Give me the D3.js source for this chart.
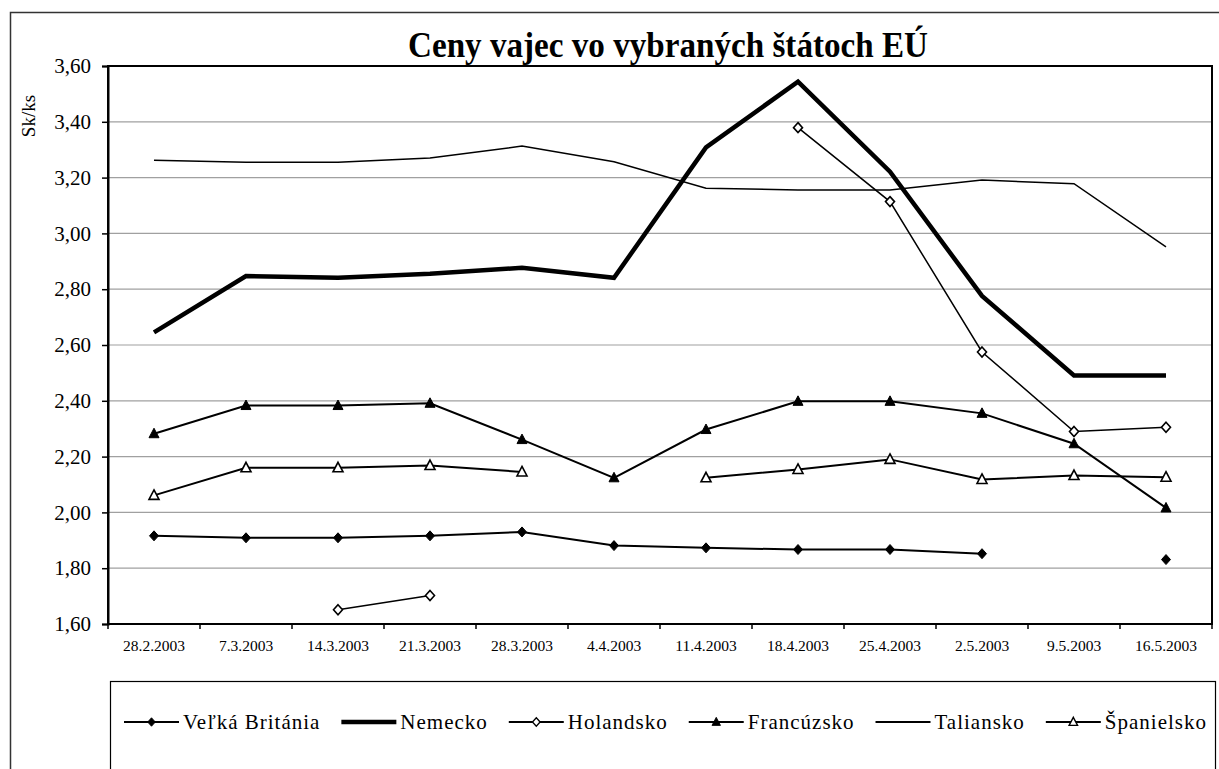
<!DOCTYPE html>
<html>
<head>
<meta charset="utf-8">
<script src="https://cdn.jsdelivr.net/npm/d3@7"></script>
<style>
  body { margin: 0; background: #fff; }
  text { font-family: "Liberation Serif", "Times New Roman", serif; fill: #000; }
</style>
</head>
<body>
<svg id="chart" width="1219" height="769"></svg>
<script>
// data
const dates = ["28.2.2003", "7.3.2003", "14.3.2003", "21.3.2003", "28.3.2003", "4.4.2003",
  "11.4.2003", "18.4.2003", "25.4.2003", "2.5.2003", "9.5.2003", "16.5.2003"];
const yTicks = [1.6, 1.8, 2.0, 2.2, 2.4, 2.6, 2.8, 3.0, 3.2, 3.4, 3.6];

const velkaBritania = [1.916, 1.909, 1.909, 1.916, 1.930, 1.881, 1.873, 1.867, 1.867, 1.852, null, 1.831];
const nemecko = [2.645, 2.847, 2.841, 2.855, 2.877, 2.841, 3.308, 3.544, 3.221, 2.776, 2.491, 2.491];
const holandsko = [null, null, 1.651, 1.702, null, null, null, 3.379, 3.114, 2.575, 2.290, 2.305];
const francuzsko = [2.282, 2.383, 2.383, 2.391, 2.261, 2.124, 2.297, 2.398, 2.398, 2.355, 2.246, 2.016];
const taliansko = [3.262, 3.255, 3.255, 3.270, 3.313, 3.257, 3.162, 3.156, 3.156, 3.191, 3.178, 2.952];
const spanielsko = [2.061, 2.160, 2.160, 2.168, 2.145, null, 2.124, 2.154, 2.190, 2.118, 2.132, 2.126];

const series = [
  { name: "Veľká Británia", values: velkaBritania, width: 2, marker: "diamond", fill: "#000" },
  { name: "Nemecko", values: nemecko, width: 4.5, marker: null },
  { name: "Holandsko", values: holandsko, width: 1.5, marker: "diamond", fill: "#fff" },
  { name: "Francúzsko", values: francuzsko, width: 2, marker: "triangle", fill: "#000" },
  { name: "Taliansko", values: taliansko, width: 1.5, marker: null },
  { name: "Španielsko", values: spanielsko, width: 2, marker: "triangle", fill: "#fff" }
];

const svg = d3.select("#chart");
const plot = { left: 108, right: 1212, top: 66, bottom: 624 };

// outer chart frame (runs off the right and bottom edge)
svg.append("rect")
  .attr("x", 10.5).attr("y", 12.5)
  .attr("width", 1300).attr("height", 800)
  .attr("fill", "none").attr("stroke", "#333").attr("stroke-width", 1.5);

const x = d3.scaleBand().domain(dates).range([plot.left, plot.right]).padding(0);
const y = d3.scaleLinear().domain([1.6, 3.6]).range([plot.bottom, plot.top]);
const cx = d => x(d) + x.bandwidth() / 2;

// gridlines
svg.append("g")
  .selectAll("line")
  .data(yTicks.slice(1, -1))
  .enter()
  .append("line")
  .attr("x1", plot.left).attr("x2", plot.right)
  .attr("y1", d => y(d)).attr("y2", d => y(d))
  .attr("stroke", "#a0a0a0").attr("stroke-width", 1.2);

// plot frame
svg.append("rect")
  .attr("x", plot.left).attr("y", plot.top)
  .attr("width", plot.right - plot.left).attr("height", plot.bottom - plot.top)
  .attr("fill", "none").attr("stroke", "#000").attr("stroke-width", 2);

// y axis
const yAxis = svg.append("g")
  .attr("transform", "translate(" + plot.left + ",0)")
  .call(d3.axisLeft(y).tickValues(yTicks).tickSize(6).tickPadding(11)
    .tickFormat(d => d3.format(".2f")(d).replace(".", ",")));
yAxis.attr("font-family", null);
yAxis.select(".domain").attr("stroke", "#000").attr("stroke-width", 2);
yAxis.selectAll(".tick line").attr("stroke", "#000").attr("stroke-width", 1.5);
yAxis.selectAll("text").style("font-size", "21px").attr("fill", "#000");

// x axis: ticks at category boundaries
const xAxis = svg.append("g")
  .attr("transform", "translate(0," + plot.bottom + ")");
xAxis.append("line")
  .attr("x1", plot.left).attr("x2", plot.right)
  .attr("stroke", "#000").attr("stroke-width", 2);
xAxis.selectAll(".xt")
  .data(dates.concat(["end"]))
  .enter()
  .append("line")
  .attr("x1", (d, i) => i < dates.length ? x(d) : plot.right)
  .attr("x2", (d, i) => i < dates.length ? x(d) : plot.right)
  .attr("y1", 0).attr("y2", 5)
  .attr("stroke", "#000").attr("stroke-width", 1.5);
xAxis.selectAll(".xl")
  .data(dates)
  .enter()
  .append("text")
  .attr("x", d => cx(d))
  .attr("y", 27)
  .attr("text-anchor", "middle")
  .style("font-size", "15.5px")
  .text(d => d);

// y axis title
svg.append("text")
  .attr("transform", "translate(35,116) rotate(-90)")
  .attr("text-anchor", "middle")
  .style("font-size", "19px")
  .text("Sk/ks");

// chart title
svg.append("text")
  .attr("x", 668).attr("y", 57)
  .attr("text-anchor", "middle")
  .attr("textLength", 520).attr("lengthAdjust", "spacingAndGlyphs")
  .style("font-size", "36px").style("font-weight", "bold")
  .text("Ceny vajec vo vybraných štátoch EÚ");

function markerPath(type) {
  if (type === "diamond") return "M0,-5L4.5,0L0,5L-4.5,0Z";
  if (type === "triangle") return "M0,-5.5L5,4L-5,4Z";
  return null;
}

// series lines and markers
const line = d3.line()
  .defined(d => d.v !== null)
  .x(d => cx(d.date))
  .y(d => y(d.v));

series.forEach(function (s) {
  const pts = s.values.map((v, i) => ({ date: dates[i], v: v }));
  svg.append("path")
    .datum(pts)
    .attr("d", line)
    .attr("fill", "none")
    .attr("stroke", "#000")
    .attr("stroke-width", s.width)
    .attr("stroke-linejoin", "miter");
  if (s.marker) {
    svg.append("g")
      .selectAll("path")
      .data(pts.filter(d => d.v !== null))
      .enter()
      .append("path")
      .attr("d", markerPath(s.marker))
      .attr("transform", d => "translate(" + cx(d.date) + "," + y(d.v) + ")")
      .attr("fill", s.fill)
      .attr("stroke", "#000")
      .attr("stroke-width", s.fill === "#fff" ? 1.6 : 1);
  }
});

// legend
svg.append("rect")
  .attr("x", 110.5).attr("y", 681.5)
  .attr("width", 1105).attr("height", 90)
  .attr("fill", "#fff").attr("stroke", "#000").attr("stroke-width", 1.2);

const legend = svg.append("g");
const lineLen = 55, textGap = 4, legY = 722;
const items = series.map(function (s) {
  const g = legend.append("g");
  g.append("line")
    .attr("x1", 0).attr("x2", lineLen)
    .attr("y1", legY).attr("y2", legY)
    .attr("stroke", "#000").attr("stroke-width", s.width === 4.5 ? 4.5 : 2);
  if (s.marker) {
    g.append("path")
      .attr("d", markerPath(s.marker))
      .attr("transform", "translate(" + lineLen / 2 + "," + legY + ") scale(0.85)")
      .attr("fill", s.fill).attr("stroke", "#000")
      .attr("stroke-width", s.fill === "#fff" ? 1.6 : 1);
  }
  const t = g.append("text")
    .attr("x", lineLen + textGap)
    .attr("y", legY + 7)
    .style("font-size", "21px")
    .style("letter-spacing", "1px")
    .text(s.name);
  return { g: g, w: lineLen + textGap + t.node().getComputedTextLength() };
});
const legLeft = 124, legRight = 1207;
const totalW = d3.sum(items, d => d.w);
const gap = (legRight - legLeft - totalW) / (items.length - 1);
let pos = legLeft;
items.forEach(function (it) {
  it.g.attr("transform", "translate(" + pos + ",0)");
  pos += it.w + gap;
});
</script>
</body>
</html>
